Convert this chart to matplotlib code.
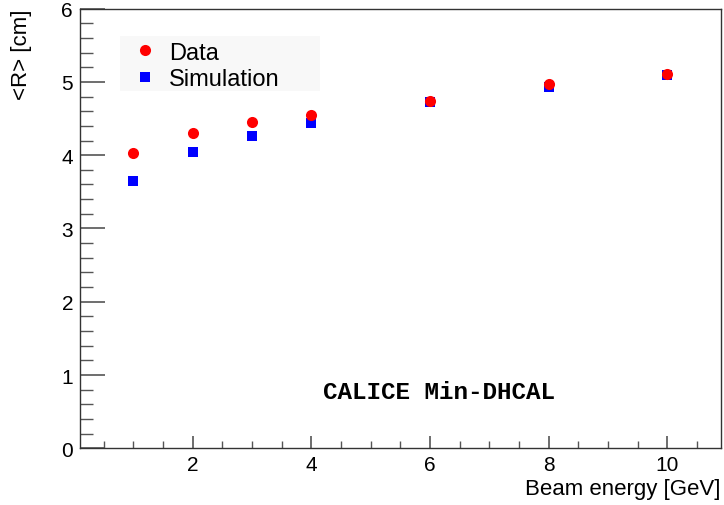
import matplotlib
matplotlib.use("Agg")
import matplotlib.pyplot as plt
from matplotlib.ticker import MultipleLocator
from matplotlib.patches import Rectangle

energy = [1, 2, 3, 4, 6, 8, 10]
data_r = [4.025, 4.30, 4.455, 4.545, 4.74, 4.965, 5.105]
sim_r = [3.65, 4.05, 4.26, 4.44, 4.72, 4.93, 5.09]

plt.rcParams['font.family'] = ['Liberation Sans', 'DejaVu Sans']

fig = plt.figure(figsize=(7.24, 5.06), dpi=100)
ax = fig.add_axes([0.1105, 0.112, 0.885, 0.869])

ax.plot(energy, sim_r, linestyle='none', marker='s', markersize=7, color='#0000ff',
        markeredgewidth=0, label='Simulation', zorder=3)
ax.plot(energy, data_r, linestyle='none', marker='o', markersize=8, color='#ff0000',
        markeredgewidth=0, label='Data', zorder=4)

ax.set_xlim(0.1, 10.9)
ax.set_ylim(0, 6)
ax.xaxis.set_major_locator(MultipleLocator(2))
ax.xaxis.set_minor_locator(MultipleLocator(0.5))
ax.yaxis.set_major_locator(MultipleLocator(1))
ax.yaxis.set_minor_locator(MultipleLocator(0.2))
ax.tick_params(which='both', direction='in', top=False, right=False, colors='#555555',
               labelcolor='black', labelsize=15)
ax.tick_params(axis='x', which='major', length=9, width=1.2)
ax.tick_params(axis='x', which='minor', length=5, width=1)
ax.tick_params(axis='y', which='major', length=18, width=1.2)
ax.tick_params(axis='y', which='minor', length=9, width=1)
ax.tick_params(axis='x', pad=5)
ax.tick_params(axis='y', pad=5)
for s in ax.spines.values():
    s.set_color('#333333')
    s.set_linewidth(1)

ax.set_xlabel('Beam energy [GeV]', fontsize=16, loc='right', labelpad=3)
ax.set_ylabel('<R> [cm]', fontsize=16, loc='top', labelpad=21)

ax.add_patch(Rectangle((0.062, 0.812), 0.312, 0.125, transform=ax.transAxes,
                       facecolor='#f8f8f8', edgecolor='none', zorder=1))
handles, labels = ax.get_legend_handles_labels()
leg = ax.legend([handles[1], handles[0]], [labels[1], labels[0]],
                loc='upper left', bbox_to_anchor=(0.08, 0.925), fontsize=17,
                frameon=False, borderpad=0.0, handletextpad=0.4,
                labelspacing=0.2, handlelength=1.2, borderaxespad=0)

ax.text(0.561, 0.13, 'CALICE Min-DHCAL', transform=ax.transAxes, ha='center', va='center',
        fontsize=17.5, fontweight='bold', family=['Liberation Mono', 'DejaVu Sans Mono'])

fig.savefig('out.png', dpi=100)
